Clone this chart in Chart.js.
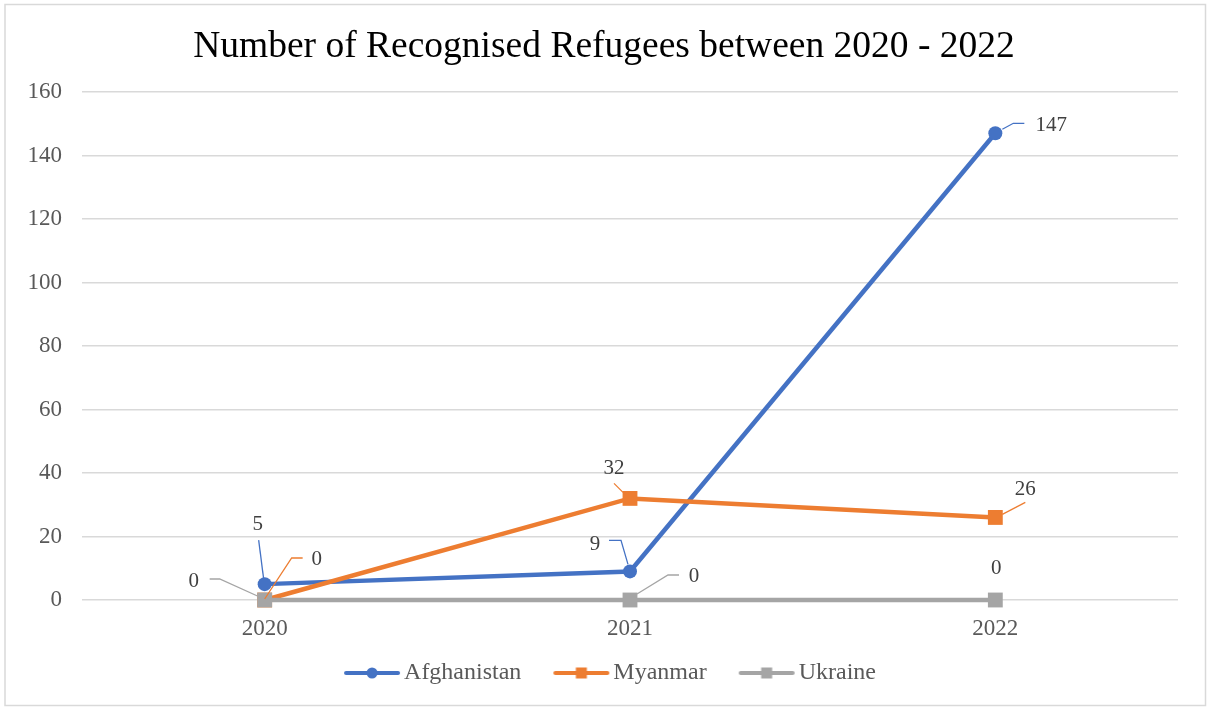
<!DOCTYPE html>
<html>
<head>
<meta charset="utf-8">
<title>Recognised Refugees 2020 - 2022</title>
<script src="https://cdn.jsdelivr.net/npm/chart.js@4.4.1/dist/chart.umd.min.js"></script>
<style>
  html, body { margin: 0; padding: 0; background: #fff; }
  #wrap { position: relative; width: 1208px; height: 708px; }
</style>
</head>
<body>
<div id="wrap"><canvas id="refugees" width="1208" height="708"></canvas></div>
<script>
const years = ["2020", "2021", "2022"];
const afghanistan = [5, 9, 147];
const myanmar = [0, 32, 26];
const ukraine = [0, 0, 0];
const yMin = 0;
const yMax = 160;
const yStep = 20;

const SERIF = "'Times New Roman', 'Liberation Serif', serif";
const BLUE = "#4472C4";
const ORANGE = "#ED7D31";
const GREY = "#A5A5A5";

// value callouts: label centre and leader polyline, in px relative to the point
const callouts = [
  { // Afghanistan
    label: [[-7, -60], [-35, -27], [56, -8]],
    leader: [[[-1, -5], [-6, -44]], [[-21, -31], [-9, -31], [-2, -7]], [[7, -4], [18, -10], [29, -10]]]
  },
  { // Myanmar
    label: [[52, -41], [-16, -30], [30, -28]],
    leader: [[[0, -1], [27, -42], [38, -42]], [[-16, -15], [-7, -6]], [[7, -3], [30, -15]]]
  },
  { // Ukraine
    label: [[-71, -19], [64, -24], [1, -32]],
    leader: [[[-55, -21], [-45, -21], [-5, -3]], [[7, -6], [38, -25], [49, -25]], []]
  }
];

const calloutPlugin = {
  id: "callouts",
  afterDatasetsDraw(chart) {
    const ctx = chart.ctx;
    ctx.save();
    chart.data.datasets.forEach((ds, i) => {
      const meta = chart.getDatasetMeta(i);
      const conf = callouts[i];
      meta.data.forEach((pt, j) => {
        const line = conf.leader[j];
        if (line.length) {
          ctx.strokeStyle = ds.borderColor;
          ctx.lineWidth = 1.3;
          ctx.beginPath();
          line.forEach(([dx, dy], k) => {
            if (k === 0) ctx.moveTo(pt.x + dx, pt.y + dy);
            else ctx.lineTo(pt.x + dx, pt.y + dy);
          });
          ctx.stroke();
        }
        const [lx, ly] = conf.label[j];
        ctx.fillStyle = "#404040";
        ctx.font = "21px " + SERIF;
        ctx.textAlign = "center";
        ctx.textBaseline = "middle";
        ctx.fillText(String(ds.data[j]), pt.x + lx, pt.y + ly);
      });
    });
    ctx.restore();
  }
};

const framePlugin = {
  id: "frame",
  beforeDraw(chart) {
    const ctx = chart.ctx;
    ctx.save();
    ctx.fillStyle = "#fff";
    ctx.fillRect(0, 0, chart.width, chart.height);
    ctx.strokeStyle = "#D9D9D9";
    ctx.lineWidth = 1.5;
    ctx.strokeRect(5, 4.5, 1200.5, 701);
    ctx.restore();
  }
};

// legend swatch: a short line with the series marker in the middle,
// placed right of centre so the label text follows it closely
function swatch(color, shape) {
  const c = document.createElement("canvas");
  c.width = 100;
  c.height = 14;
  const g = c.getContext("2d");
  g.strokeStyle = color;
  g.lineWidth = 4;
  g.lineCap = "round";
  g.beginPath();
  g.moveTo(34, 7);
  g.lineTo(86, 7);
  g.stroke();
  g.fillStyle = color;
  if (shape === "circle") {
    g.beginPath();
    g.arc(60, 7, 5.5, 0, Math.PI * 2);
    g.fill();
  } else {
    g.fillRect(54.5, 1.5, 11, 11);
  }
  return c;
}

const series = [
  { label: "Afghanistan", data: afghanistan, color: BLUE, shape: "circle", r: 7 },
  { label: "Myanmar", data: myanmar, color: ORANGE, shape: "rect", r: 10.5 },
  { label: "Ukraine", data: ukraine, color: GREY, shape: "rect", r: 10.5 }
];

new Chart(document.getElementById("refugees"), {
  type: "line",
  data: {
    labels: years,
    datasets: series.map((s, i) => ({
      label: s.label,
      data: s.data,
      borderColor: s.color,
      backgroundColor: s.color,
      borderWidth: 4.5,
      pointStyle: s.shape,
      pointRadius: s.r,
      pointBorderWidth: 0,
      pointHoverRadius: s.r,
      tension: 0,
      clip: false,
      order: series.length - i,
      swatch: swatch(s.color, s.shape)
    }))
  },
  options: {
    responsive: false,
    animation: false,
    devicePixelRatio: 1,
    layout: { padding: { top: 4, left: 4, right: 4, bottom: 17 } },
    plugins: {
      title: {
        display: true,
        text: "Number of Recognised Refugees between 2020 - 2022",
        color: "#000",
        font: { family: SERIF, size: 37.5, weight: "normal" },
        padding: { top: 21, bottom: 22 }
      },
      legend: {
        position: "bottom",
        maxHeight: 50,
        labels: {
          usePointStyle: true,
          pointStyleWidth: 60,
          padding: 20,
          color: "#595959",
          font: { family: SERIF, size: 24 },
          generateLabels(chart) {
            return chart.data.datasets.map((ds, i) => ({
              text: ds.label,
              fontColor: "#595959",
              pointStyle: ds.swatch,
              strokeStyle: ds.borderColor,
              fillStyle: ds.borderColor,
              lineWidth: 0,
              hidden: false,
              datasetIndex: i
            }));
          }
        }
      },
      tooltip: { enabled: false }
    },
    scales: {
      x: {
        offset: true,
        grid: { display: false },
        border: { display: false },
        ticks: { color: "#595959", font: { family: SERIF, size: 23 }, padding: 7 },
        afterFit(scale) { scale.height = 41; }
      },
      y: {
        min: yMin,
        max: yMax,
        grid: { color: "#D9D9D9", lineWidth: 1.5, drawTicks: false },
        border: { display: false },
        ticks: { stepSize: yStep, color: "#595959", font: { family: SERIF, size: 23 }, padding: 20 },
        afterFit(scale) { scale.width = 78; }
      },
      // empty right-hand margin of the plot
      yRight: {
        position: "right",
        min: yMin,
        max: yMax,
        grid: { drawOnChartArea: false, drawTicks: false },
        border: { display: false },
        ticks: { display: false },
        afterFit(scale) { scale.width = 26; }
      }
    }
  },
  plugins: [framePlugin, calloutPlugin]
});
</script>
</body>
</html>
